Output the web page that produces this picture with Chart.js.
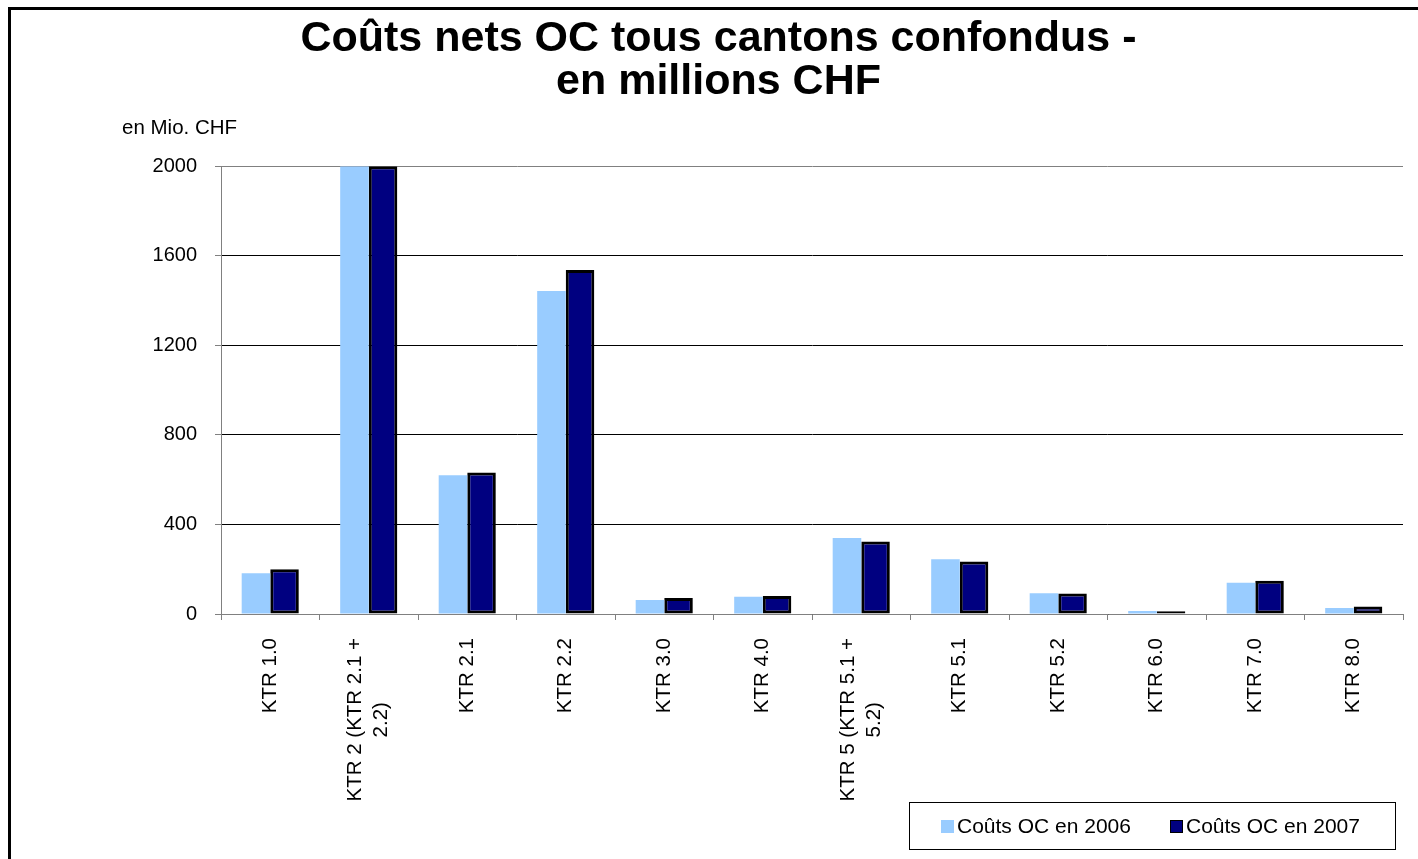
<!DOCTYPE html>
<html>
<head>
<meta charset="utf-8">
<script src="https://cdn.jsdelivr.net/npm/chart.js@4/dist/chart.umd.min.js"></script>
<style>
  html, body { margin: 0; padding: 0; background: #fff; overflow: hidden; }
  body { width: 1418px; height: 859px; position: relative; font-family: 'Liberation Sans', Arial, sans-serif; }
  #wrap { position: absolute; left: 0; top: 0; width: 1418px; height: 859px; }
  #frame { position: absolute; left: 8px; top: 7px; width: 1500px; height: 900px; border: 3px solid #000; pointer-events: none; }
  #unit { position: absolute; left: 122px; top: 115px; font-size: 20.5px; color: #000; }
  #legend { position: absolute; left: 909px; top: 802px; width: 485px; height: 46px; border: 1px solid #000; background: #fff; font-size: 21px; }
  #legend .item { position: absolute; top: 11px; white-space: nowrap; }
  #legend .sw { display: inline-block; width: 13px; height: 13px; margin-right: 3px; vertical-align: 0px; box-sizing: border-box; }
</style>
</head>
<body>
<div id="wrap"><canvas id="chart"></canvas></div>
<div id="frame"></div>
<div id="unit">en Mio. CHF</div>
<div id="legend"></div>
<script>
const categories = [
  'KTR 1.0', ['KTR 2 (KTR 2.1 +', '2.2)'], 'KTR 2.1', 'KTR 2.2', 'KTR 3.0', 'KTR 4.0',
  ['KTR 5 (KTR 5.1 +', '5.2)'], 'KTR 5.1', 'KTR 5.2', 'KTR 6.0', 'KTR 7.0', 'KTR 8.0'
];
const couts2006 = [182, 2000, 620, 1442, 62, 77, 339, 244, 93, 13, 140, 27];
const couts2007 = [200, 2000, 632, 1536, 71, 80, 324, 235, 92, 12, 149, 33];
const yTicks = [0, 400, 800, 1200, 1600, 2000];
const seriesNames = ['Coûts OC en 2006', 'Coûts OC en 2007'];

const FONT = "'Liberation Sans', Arial, sans-serif";
const light = '#99CCFF';
const navy = '#000080';

// x labels: rotated, lines centred on the longest one, like Excel does
const xLabelPlugin = {
    id: 'xLabels',
    afterDraw(chart) {
        const x = chart.scales.x;
        const c = chart.ctx;
        const top = chart.chartArea.bottom + 24;
        c.save();
        c.font = '20.5px ' + FONT;
        c.fillStyle = '#000';
        c.textAlign = 'center';
        c.textBaseline = 'middle';
        categories.forEach((lab, i) => {
            const lines = Array.isArray(lab) ? lab : [lab];
            const maxW = Math.max(...lines.map(l => c.measureText(l).width));
            const cx = x.getPixelForValue(i);
            c.save();
            c.translate(cx, top);
            c.rotate(-Math.PI / 2);
            lines.forEach((l, j) => {
                c.fillText(l, -maxW / 2, (j - (lines.length - 1) / 2) * 26);
            });
            c.restore();
        });
        c.restore();
    }
};

const canvas = document.getElementById('chart');
new Chart(canvas, {
    type: 'bar',
    plugins: [xLabelPlugin],
    data: {
        labels: categories,
        datasets: [{
            label: seriesNames[0],
            data: couts2006,
            backgroundColor: light,
            borderWidth: 0,
            categoryPercentage: 0.58,
            barPercentage: 1
        }, {
            label: seriesNames[1],
            data: couts2007,
            backgroundColor: navy,
            borderColor: '#000',
            borderWidth: 3,
            borderSkipped: false,
            categoryPercentage: 0.58,
            barPercentage: 1
        }]
    },
    options: {
        responsive: true,
        maintainAspectRatio: false,
        animation: false,
        layout: { padding: { left: 34, right: 15, top: 0, bottom: 0 } },
        plugins: {
            legend: { display: false },
            tooltip: { enabled: false },
            title: {
                display: true,
                text: ['Coûts nets OC tous cantons confondus -', 'en millions CHF'],
                color: '#000',
                font: { family: FONT, size: 43, weight: 'bold', lineHeight: 0.99 },
                padding: { top: 18, bottom: 63 }
            }
        },
        scales: {
            x: {
                afterFit(s) { s.height = 245; },
                grid: {
                    offset: true,
                    drawOnChartArea: false,
                    drawTicks: true,
                    tickLength: 6,
                    color: '#808080'
                },
                border: { color: '#808080', width: 1 },
                ticks: { display: false }
            },
            y: {
                min: 0,
                max: 2000,
                afterFit(s) { s.width = 187; },
                afterBuildTicks(s) { s.ticks = yTicks.map(v => ({ value: v })); },
                grid: {
                    color: ctx => (ctx.tick && ctx.tick.value === 2000) ? '#808080' : '#000',
                    tickColor: '#808080',
                    tickLength: 6
                },
                border: { color: '#808080', width: 1 },
                ticks: {
                    color: '#000',
                    padding: 18,
                    font: { family: FONT, size: 20 },
                    callback: v => String(v)
                }
            }
        }
    }
});

// legend box
const legend = document.getElementById('legend');
const legendPos = [31, 260];
seriesNames.forEach((name, i) => {
    const item = document.createElement('div');
    item.className = 'item';
    item.style.left = legendPos[i] + 'px';
    const sw = document.createElement('span');
    sw.className = 'sw';
    sw.style.background = i === 0 ? light : navy;
    if (i === 1) sw.style.border = '1px solid #000';
    item.appendChild(sw);
    item.appendChild(document.createTextNode(name));
    legend.appendChild(item);
});
</script>
</body>
</html>
